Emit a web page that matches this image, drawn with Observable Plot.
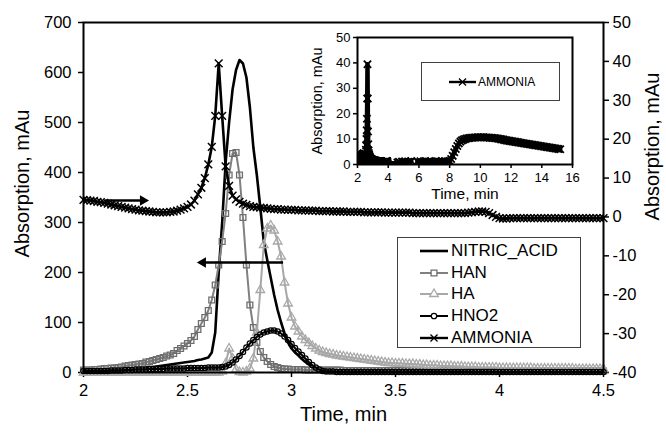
<!DOCTYPE html>
<html>
<head>
<meta charset="utf-8">
<script src="https://cdn.jsdelivr.net/npm/d3@7"></script>
<script src="https://cdn.jsdelivr.net/npm/@observablehq/plot@0.6"></script>
<style>
  body { margin: 0; background: #fff; }
  #chart { position: relative; width: 666px; height: 433px; font-family: "Liberation Sans", Arial, sans-serif; }
  #chart svg { display: block; }
  .legend { position: absolute; background: #fff; border: 1px solid #404040; box-sizing: border-box; }
  .legend .row { position: absolute; display: flex; align-items: center; white-space: nowrap; color: #000; }
  .legend .row svg { display: block; flex: none; }
</style>
</head>
<body>
<div id="chart"></div>
<script>
// Chromatogram: one detector sample per second from 2.0 to 4.5 min.
const startTime = 2;
const stepMin = 1 / 60;
const sampleCount = 151;

// Left axis, mAu
const nitricAcid = [
  2,2,3,3,3,4,4,4,5,5,
  6,6,7,7,8,8,9,9,10,11,
  11,12,13,14,15,16,17,18,19,20,
  21,22,23,25,26,28,30,40,80,200,
  300,420,500,566,605,625,618,590,530,450,
  395,330,262,225,190,155,125,100,78,60,
  48,40,34,27,21,16,11,8,5,3,
  2,2,1,1,1,1,1,1,1,1,
  1,1,1,1,1,1,1,1,1,1,
  1,1,1,1,1,1,1,1,1,1,
  1,1,1,1,1,1,1,1,1,1,
  1,1,1,1,1,1,1,1,1,1,
  1,1,1,1,1,1,1,1,1,1,
  1,1,1,1,1,1,1,1,1,1,
  1,1,1,1,1,1,1,1,1,1,
  1
];
const han = [
  5,5,5,6,6,7,8,8,9,9,
  10,11,13,14,15,16,17,18,21,22,
  24,26,28,30,33,35,38,44,48,53,
  58,64,72,86,98,110,124,145,175,215,
  262,318,395,438,440,395,310,215,135,90,
  60,42,30,22,16,12,10,8,7,7,
  6,6,6,6,5,5,5,5,5,5,
  5,5,5,5,5,4,4,4,4,4,
  4,4,4,4,4,4,4,4,4,4,
  4,4,4,4,4,4,4,4,4,4,
  4,4,4,4,4,3,3,3,3,3,
  3,3,3,3,3,3,3,3,3,3,
  3,3,3,3,3,3,3,3,3,3,
  3,3,3,3,3,3,3,3,3,3,
  3,3,3,3,3,3,3,3,3,3,
  3
];
const ha = [
  0,0,0,0,0,0,0,0,0,0,
  0,0,0,0,0,0,0,0,0,0,
  0,0,0,0,0,0,0,0,0,0,
  0,0,0,0,0,0,0,0,0,0,
  2,18,48,28,6,1,0,2,8,28,
  80,165,255,288,294,284,262,232,180,138,
  110,92,82,72,65,59,53,48,44,41,
  39,37,36,34,33,32,31,30,29,28,
  27,26,25,24,23,22,21,20,19,19,
  18,18,18,17,17,17,16,16,15,15,
  14,14,14,13,13,13,13,12,12,12,
  11,11,11,11,10,10,10,10,10,10,
  9,9,9,9,9,9,9,9,9,9,
  8,8,8,8,8,8,8,8,8,8,
  8,8,7,7,7,7,7,7,7,7,
  7
];
const hno2 = [
  3,3,3,3,3,3,3,3,4,4,
  4,4,5,5,5,6,6,6,6,7,
  7,7,7,7,8,8,8,8,8,8,
  9,9,9,9,9,9,10,10,10,10,
  11,12,15,20,26,33,41,50,58,65,
  71,76,80,82,84,84,82,78,72,65,
  57,49,42,35,28,21,15,10,6,3,
  2,2,2,1,1,1,1,1,1,1,
  1,1,1,1,1,1,1,1,1,1,
  1,1,1,1,1,1,1,1,1,1,
  1,1,1,1,1,1,1,1,1,1,
  1,1,1,1,1,1,1,1,1,1,
  1,1,1,1,1,1,1,1,1,1,
  1,1,1,1,1,1,1,1,1,1,
  1,1,1,1,1,1,1,1,1,1,
  1
];
// Right axis, mAu
const ammonia = [
  4.4,4.3,4.2,4.1,3.9,3.8,3.6,3.4,3.2,3.0,
  2.8,2.6,2.4,2.2,2.0,1.9,1.7,1.6,1.5,1.4,
  1.3,1.2,1.2,1.2,1.2,1.3,1.4,1.6,1.9,2.2,
  2.6,3.2,4.2,5.8,7.5,10,13.5,18,26,39.5,
  26,13,8,5.5,4.5,3.9,3.4,3.1,2.8,2.6,
  2.5,2.4,2.3,2.2,2.1,2.0,2.0,1.9,1.9,1.8,
  1.8,1.8,1.7,1.7,1.7,1.6,1.6,1.6,1.5,1.5,
  1.5,1.5,1.4,1.4,1.4,1.4,1.3,1.3,1.3,1.3,
  1.3,1.2,1.2,1.2,1.2,1.2,1.2,1.1,1.1,1.1,
  1.1,1.1,1.1,1.1,1.1,1.0,1.0,1.0,1.0,1.0,
  1.0,1.0,1.0,1.0,1.0,1.0,1.0,1.0,1.0,1.0,
  1.0,1.1,1.2,1.3,1.4,1.4,1.3,1.0,0.5,0.0,
  -0.3,-0.4,-0.4,-0.3,-0.3,-0.3,-0.3,-0.3,-0.3,-0.3,
  -0.3,-0.3,-0.3,-0.3,-0.3,-0.3,-0.3,-0.3,-0.3,-0.3,
  -0.3,-0.3,-0.3,-0.3,-0.3,-0.3,-0.3,-0.3,-0.3,-0.3,
  -0.3
];
// Longer ammonia run (inset), 0.1 min steps from 4.6 to 15.2 min; null = no reading
const lateStart = 4.6;
const lateStep = 0.1;
const ammoniaLate = [
  0.8,1.1,0.6,1.2,0.9,1.3,0.7,1.1,1.0,1.4,
  null,null,null,
  1.2,0.9,1.3,0.6,1.1,1.4,0.8,1.2,1.0,1.3,0.7,
  1.1,1.4,0.9,1.2,0.8,1.3,1.0,1.4,1.1,1.2,
  1.4,2.2,3.4,4.8,6.1,7.3,8.3,9.0,9.5,9.8,
  10.0,10.2,10.3,10.4,10.5,10.5,10.6,10.6,10.7,10.7,
  10.7,10.7,10.7,10.6,10.6,10.6,10.5,10.5,10.4,10.4,
  10.3,10.2,10.1,10.0,9.9,9.8,9.6,9.5,9.4,9.3,
  9.2,9.1,9.0,8.9,8.8,8.7,8.6,8.5,8.4,8.3,
  8.2,8.1,8.0,7.9,7.8,7.7,7.6,7.5,7.4,7.3,
  7.2,7.1,7.0,6.9,6.8,6.7,6.6,6.5,6.4,6.3,
  6.2,6.1,6.0
];

const seriesNames = ["NITRIC_ACID", "HAN", "HA", "HNO2", "AMMONIA"];
const xTicks = [2, 2.5, 3, 3.5, 4, 4.5];
const leftTicks = [0, 100, 200, 300, 400, 500, 600, 700];
const rightTicks = [-40, -30, -20, -10, 0, 10, 20, 30, 40, 50];
const insetXTicks = [2, 4, 6, 8, 10, 12, 14, 16];
const insetYTicks = [0, 10, 20, 30, 40, 50];
const xTitle = "Time, min";
const yTitle = "Absorption, mAu";
// Direction arrows: which curve belongs to which axis (time, mAu on left scale)
const arrowNotes = [
  {x1: 2.106, x2: 2.286, y: 344, dir: 90},
  {x1: 2.962, x2: 2.574, y: 220, dir: -90}
];

[nitricAcid, han, ha, hno2, ammonia].forEach(s => {
  if (s.length !== sampleCount) throw new Error("series length " + s.length);
});

const FONT = '"Liberation Sans", Arial, Helvetica, sans-serif';
const HAN_GRAY = "#808080";
const HA_GRAY = "#a8a8a8";

// Secondary (right) axis maps linearly onto the primary scale
const leftDomain = [0, 700];
const rightDomain = [-40, 50];
const toLeft = v => (v - rightDomain[0]) * (leftDomain[1] - leftDomain[0]) / (rightDomain[1] - rightDomain[0]) + leftDomain[0];
const fromLeft = d => (d - leftDomain[0]) * (rightDomain[1] - rightDomain[0]) / (leftDomain[1] - leftDomain[0]) + rightDomain[0];

const rows = d3.range(sampleCount).map(i => ({
  t: startTime + i * stepMin,
  nitric: nitricAcid[i],
  han: han[i],
  ha: ha[i],
  hno2: hno2[i],
  ammonia: toLeft(ammonia[i])
}));

const insetRows = [
  ...d3.range(sampleCount).map(i => ({t: startTime + i * stepMin, v: ammonia[i]})),
  ...ammoniaLate.map((v, i) => ({t: lateStart + i * lateStep, v}))
];

const main = Plot.plot({
  width: 666,
  height: 433,
  marginLeft: 83,
  marginRight: 63,
  marginTop: 22,
  marginBottom: 61,
  style: {fontFamily: FONT, fontSize: "16.5px", color: "#000", background: "#fff", overflow: "visible"},
  x: {domain: [2, 4.5]},
  y: {domain: leftDomain},
  marks: [
    Plot.axisX({ticks: xTicks, tickSize: 5, tickPadding: 7, tickFormat: d => String(d), label: null, strokeWidth: 1.5}),
    Plot.axisY({ticks: leftTicks, tickSize: 5, tickPadding: 7, label: null, strokeWidth: 1.5}),
    Plot.axisY({anchor: "right", ticks: rightTicks.map(toLeft), tickFormat: d => String(Math.round(fromLeft(d))), tickSize: 5, tickPadding: 4, label: null, strokeWidth: 1.5}),

    Plot.line(rows, {x: "t", y: "nitric", stroke: "#000", strokeWidth: 2.6}),

    Plot.line(rows, {x: "t", y: "han", stroke: HAN_GRAY, strokeWidth: 2}),
    Plot.dot(rows, {x: "t", y: "han", symbol: "square", r: 3.3, stroke: "#6e6e6e", fill: "none", strokeWidth: 1.3}),

    Plot.line(rows, {x: "t", y: "ha", stroke: HA_GRAY, strokeWidth: 2}),
    Plot.dot(rows, {x: "t", y: "ha", symbol: "triangle", r: 3.2, stroke: HA_GRAY, fill: "none", strokeWidth: 1.3}),

    Plot.line(rows, {x: "t", y: "hno2", stroke: "#000", strokeWidth: 2}),
    Plot.dot(rows, {x: "t", y: "hno2", symbol: "circle", r: 2.7, stroke: "#000", fill: "none", strokeWidth: 1.2}),

    Plot.line(rows, {x: "t", y: "ammonia", stroke: "#000", strokeWidth: 2.6}),
    Plot.dot(rows, {x: "t", y: "ammonia", symbol: "times", r: 3.6, stroke: "#000", strokeWidth: 1.5}),

    Plot.frame({stroke: "#000", strokeWidth: 2}),

    Plot.ruleY(arrowNotes, {x1: "x1", x2: "x2", y: "y", stroke: "#000", strokeWidth: 2.6}),
    Plot.dot(arrowNotes, {x: "x2", y: "y", symbol: "triangle2", r: 5, rotate: "dir", fill: "#000", stroke: "none"}),

    Plot.text([xTitle], {text: d => d, frameAnchor: "bottom", textAnchor: "middle", dy: 48, fontSize: 20}),
    Plot.text([yTitle], {text: d => d, frameAnchor: "left", textAnchor: "middle", dx: -61, dy: -14, rotate: -90, fontSize: 20}),
    Plot.text([yTitle], {text: d => d, frameAnchor: "right", textAnchor: "middle", dx: 49, dy: -51, rotate: -90, fontSize: 20})
  ]
});

const inset = Plot.plot({
  width: 290,
  height: 180,
  marginLeft: 57,
  marginRight: 18,
  marginTop: 7,
  marginBottom: 46,
  style: {fontFamily: FONT, fontSize: "13px", color: "#000", background: "transparent", overflow: "visible"},
  x: {domain: [2, 16]},
  y: {domain: [0, 50]},
  marks: [
    Plot.frame({fill: "#fff"}),
    Plot.axisX({ticks: insetXTicks, tickSize: 4, tickPadding: 4, label: null, strokeWidth: 1.5}),
    Plot.axisY({ticks: insetYTicks, tickSize: 4, tickPadding: 3, label: null, strokeWidth: 1.5}),
    Plot.line(insetRows, {x: "t", y: "v", stroke: "#000", strokeWidth: 4.5, clip: true}),
    Plot.dot(insetRows, {x: "t", y: "v", symbol: "times", r: 3.4, stroke: "#000", strokeWidth: 1.8, clip: true}),
    Plot.frame({stroke: "#000", strokeWidth: 2}),
    Plot.text([xTitle], {text: d => d, frameAnchor: "bottom", textAnchor: "middle", dy: 34, fontSize: 15.5}),
    Plot.text([yTitle], {text: d => d, frameAnchor: "left", textAnchor: "middle", dx: -40, rotate: -90, fontSize: 14.5})
  ]
});

const chart = document.getElementById("chart");
chart.appendChild(main);
inset.style.position = "absolute";
inset.style.left = "300px";
inset.style.top = "30px";
chart.appendChild(inset);

// Legend swatches: a line segment with the series marker in its middle
const swatch = {
  NITRIC_ACID: {stroke: "#000", width: 2.6, symbol: null},
  HAN: {stroke: HAN_GRAY, width: 2, symbol: d3.symbolSquare, size: 34, mark: "#6e6e6e", fill: "#fff"},
  HA: {stroke: HA_GRAY, width: 2, symbol: d3.symbolTriangle, size: 32, mark: HA_GRAY, fill: "#fff"},
  HNO2: {stroke: "#000", width: 2, symbol: d3.symbolCircle, size: 23, mark: "#000", fill: "#fff"},
  AMMONIA: {stroke: "#000", width: 2.4, symbol: d3.symbolTimes, size: 34, mark: "#000", fill: "none"}
};

function swatchSvg(name, w) {
  const s = swatch[name];
  const h = 14;
  let out = `<svg width="${w}" height="${h}"><line x1="0" x2="${w}" y1="${h / 2}" y2="${h / 2}" stroke="${s.stroke}" stroke-width="${s.width}"/>`;
  if (s.symbol) {
    const path = d3.symbol(s.symbol, s.size)();
    out += `<path d="${path}" transform="translate(${w / 2},${h / 2})" fill="${s.fill}" stroke="${s.mark}" stroke-width="1.3"/>`;
  }
  return out + "</svg>";
}

function addLegend(names, box, opts) {
  const div = document.createElement("div");
  div.className = "legend";
  Object.assign(div.style, {left: box.left + "px", top: box.top + "px", width: box.width + "px", height: box.height + "px"});
  names.forEach((name, k) => {
    const row = document.createElement("div");
    row.className = "row";
    Object.assign(row.style, {
      left: opts.symbolLeft + "px",
      top: (opts.firstRow + k * opts.rowStep - 10) + "px",
      height: "20px",
      fontSize: opts.fontSize + "px"
    });
    row.innerHTML = swatchSvg(name, opts.symbolWidth) + `<span style="margin-left:${opts.gap}px">${name}</span>`;
    div.appendChild(row);
  });
  chart.appendChild(div);
}

addLegend(seriesNames, {left: 397, top: 237, width: 184, height: 111},
  {symbolLeft: 22, symbolWidth: 28, gap: 3, firstRow: 13, rowStep: 21.7, fontSize: 17});
addLegend(["AMMONIA"], {left: 421, top: 62, width: 139, height: 39},
  {symbolLeft: 27, symbolWidth: 27, gap: 2, firstRow: 19, rowStep: 0, fontSize: 12});
</script>
</body>
</html>
